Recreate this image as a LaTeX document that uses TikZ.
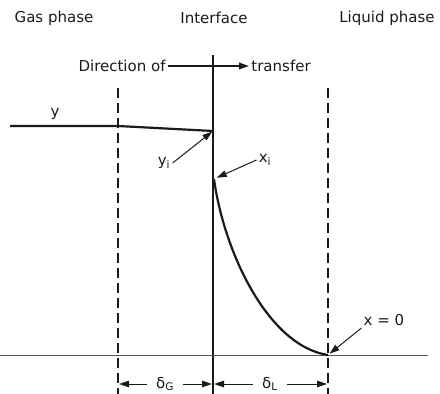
\documentclass[tikz,border=0pt]{standalone}
\usepackage{fontspec}
\setmainfont{DejaVu Sans}
\setsansfont{DejaVu Sans}
\usetikzlibrary{arrows.meta, positioning, calc}
\definecolor{cink}{HTML}{1A1A1A}
\definecolor{cgrey}{HTML}{555555}
\tikzset{
  every picture/.style={font=\sffamily\fontsize{15}{18}\selectfont, line width=0.9pt},
  wall/.style={draw=cink, line width=1.2pt},
  film/.style={draw=cink, line width=1.2pt, dash pattern=on 10pt off 5pt},
  profile/.style={draw=cink, line width=2.2pt},
  pointer/.style={-{Triangle[length=10pt, width=6.5pt]}, draw=cink, line width=1pt},
  lbl/.style={inner sep=2pt, text=cink},
  dim/.style={inner sep=9pt, text=cink},
}

\begin{document}
\begin{tikzpicture}[x=1pt, y=-1pt]
  \useasboundingbox (0,0) rectangle (440,394);
  % phases
  \node[lbl] (gas) at (54,18) {Gas phase};
  \node[lbl] (intf) at (214,18) {Interface};
  \node[lbl] (liq) at (387,18) {Liquid phase};
  % boundaries
  \coordinate (gT) at (118,88);
  \coordinate (gB) at (118,394);
  \coordinate (iT) at (213,55);
  \coordinate (iB) at (213,394);
  \coordinate (lT) at (328,88);
  \coordinate (lB) at (328,394);
  \coordinate (bL) at (0,355);
  \coordinate (bR) at (428,355);
  \draw[film] (gT) -- (gB);
  \draw[wall] (iT) -- (iB);
  \draw[film] (lT) -- (lB);
  \draw[draw=cgrey, line width=0.9pt] (bL) -- (bR);
  % direction of transfer
  \node[lbl, anchor=east] (dir) at (168,66) {Direction of};
  \node[lbl, anchor=west] (tr) at (249,66) {transfer};
  \draw[pointer, line width=1.8pt] (dir) -- (tr);
  % gas side
  \coordinate (y0) at (10,126);
  \coordinate (yF) at (118,126);
  \coordinate (yi) at (213,131);
  \draw[profile] (y0) -- (yF) -- (yi);
  \node[lbl] (ylab) at (55,114) {y};
  \node[lbl] (yilab) at (164,163) {y\textsubscript{i}};
  \draw[pointer, shorten >=1pt] (yilab.east) -- (yi);
  % liquid side
  \coordinate (xi) at (214,179);
  \coordinate (x0) at (328,355);
  \draw[profile] (xi) .. controls (224,252) and (268,346) .. (x0);
  \node[lbl] (xilab) at (265,160) {x\textsubscript{i}};
  \draw[pointer, shorten >=3pt] (xilab.west) -- (xi);
  \node[lbl] (x0lab) at (384,320) {x = 0};
  \draw[pointer, shorten >=2pt] (x0lab.south west) -- (x0);
  % film thicknesses
  \node[dim] (dG) at (165,384) {δ\textsubscript{G}};
  \node[dim] (dL) at (270,384) {δ\textsubscript{L}};
  \draw[pointer, shorten >=1pt] (dG.west) -- (dG.west -| gB);
  \draw[pointer, shorten >=1pt] (dG.east) -- (dG.east -| iB);
  \draw[pointer, shorten >=1pt] (dL.west) -- (dL.west -| iB);
  \draw[pointer, shorten >=1pt] (dL.east) -- (dL.east -| lB);
\end{tikzpicture}
\end{document}
